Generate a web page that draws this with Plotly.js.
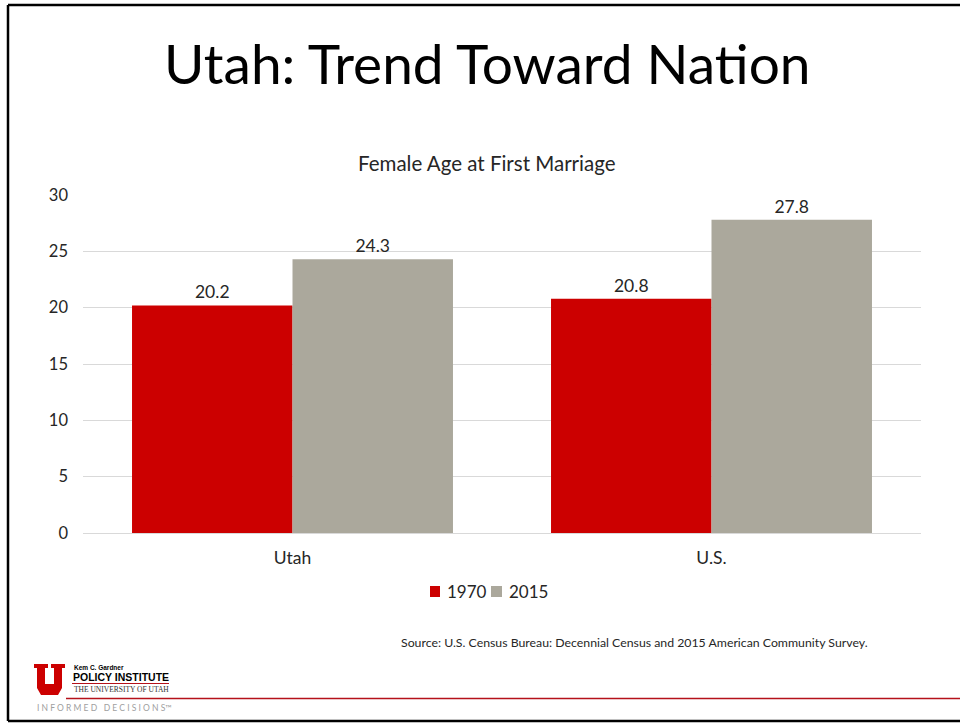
<!DOCTYPE html>
<html><head><meta charset="utf-8">
<script src="https://cdn.plot.ly/plotly-3.0.1.min.js"></script>
<style>html,body{margin:0;padding:0;background:#fff;}#chart{width:960px;height:723px;}</style>
</head><body><div id="chart"></div>
<script>
const categories = ["Utah", "U.S."];
const seriesNames = ["1970", "2015"];
const values1970 = [20.2, 20.8];
const values2015 = [24.3, 27.8];
const yTicks = [0, 5, 10, 15, 20, 25, 30];
const seriesColors = ["#CC0000", "#ABA89C"];

const W = 960, H = 723;
const M = {l: 83, r: 39, t: 195, b: 190};
const PW = W - M.l - M.r, PH = H - M.t - M.b;
const px = x => (x - M.l) / PW;
const py = y => (H - M.b - y) / PH;

const font = "Lato, 'Open Sans', sans-serif";
const txt = "#262626";

const traces = [
  {type: "bar", name: seriesNames[0], x: categories, y: values1970,
   marker: {color: seriesColors[0]}, text: values1970.map(v => v.toFixed(1)),
   textposition: "outside", cliponaxis: false,
   textfont: {family: font, size: 17.5, color: txt}, hoverinfo: "skip", showlegend: false},
  {type: "bar", name: seriesNames[1], x: categories, y: values2015,
   marker: {color: seriesColors[1]}, text: values2015.map(v => v.toFixed(1)),
   textposition: "outside", cliponaxis: false,
   textfont: {family: font, size: 17.5, color: txt}, hoverinfo: "skip", showlegend: false}
];

function line(x0, y0, x1, y1, color, w) {
  return {type: "line", xref: "paper", yref: "paper", x0: px(x0), y0: py(y0), x1: px(x1), y1: py(y1),
          line: {color: color, width: w}, layer: "above"};
}
function rect(x0, y0, x1, y1, color) {
  return {type: "rect", xref: "paper", yref: "paper", x0: px(x0), y0: py(y0), x1: px(x1), y1: py(y1),
          fillcolor: color, line: {width: 0}, layer: "above"};
}
function ann(text, x, y, size, opts) {
  return Object.assign({text: text, xref: "paper", yref: "paper", x: px(x), y: py(y),
    showarrow: false, font: {family: font, size: size, color: txt}, xanchor: "center", yanchor: "middle"}, opts || {});
}

// U logo path in pixel coords
const uPts = [[34,664],[48,664],[48,668],[45,668],[45,684],[54,684],[54,668],[51,668],[51,664],[65,664],[65,668],[62,668],[62,688],[58,695],[41,695],[37,688],[37,668],[34,668]];
const uPath = "M" + uPts.map(p => px(p[0]) + "," + py(p[1])).join(" L") + " Z";

// manual legend positions (pixels)
const legSq = [[430, 440], [491, 502]];
const legTx = [445, 507];

const shapes = [
  line(8, 5, 960, 5, "#000", 2.5),
  line(8, 5, 8, 721, "#000", 2.5),
  line(8, 721, 960, 721, "#000", 2.5),
  line(66, 698.5, 960, 698.5, "#B5121B", 1.5),
  line(72, 683.5, 169, 683.5, "#B5121B", 1),
  {type: "path", xref: "paper", yref: "paper", path: uPath, fillcolor: "#CC0000", line: {width: 0}, layer: "above"},
  rect(legSq[0][0], 586, legSq[0][1], 597, seriesColors[0]),
  rect(legSq[1][0], 586, legSq[1][1], 597, seriesColors[1])
];

const annotations = [
  ann("Utah: Trend Toward Nation", 487, 63, 55, {font: {family: font, size: 55, color: "#000"}}),
  ann("Female Age at First Marriage", 487, 163, 20.5),
  ann("Source: U.S. Census Bureau: Decennial Census and 2015 American Community Survey.", 870, 642, 12.3, {xanchor: "right"}),
  ann(seriesNames[0], legTx[0], 591.5, 17, {xanchor: "left"}),
  ann(seriesNames[1], legTx[1], 591.5, 17, {xanchor: "left"}),
  ann("<b>Kem C. Gardner</b>", 72, 667, 6.5, {xanchor: "left", font: {family: "'Liberation Sans Narrow', Arial, sans-serif", size: 6.5, color: "#000"}}),
  ann("<b>POLICY INSTITUTE</b>", 71, 676.5, 10.5, {xanchor: "left", font: {family: "'Liberation Sans Narrow', Arial, sans-serif", size: 10.5, color: "#000"}}),
  ann("THE UNIVERSITY OF UTAH", 72, 689, 7.5, {xanchor: "left", font: {family: "'Liberation Serif', serif", size: 7.5, color: "#333"}}),
  ann("I N F O R M E D &nbsp; D E C I S I O N S™", 35, 708, 8.5, {xanchor: "left", font: {family: font, size: 8.5, color: "#a0a0a0"}})
];

const layout = {
  width: W, height: H,
  margin: M,
  paper_bgcolor: "#fff", plot_bgcolor: "#fff",
  font: {family: font, size: 16, color: txt},
  barmode: "group", bargap: 0.234, bargroupgap: 0,
  showlegend: false,
  xaxis: {type: "category", showgrid: false, showline: false, zeroline: false,
          ticks: "", ticklabelstandoff: 12, tickfont: {family: font, size: 17.5, color: txt}, fixedrange: true},
  yaxis: {range: [0, 30], tickvals: yTicks, ticktext: yTicks.map(String), showgrid: true,
          gridcolor: "#D9D9D9", gridwidth: 1, zeroline: true, zerolinecolor: "#D9D9D9", zerolinewidth: 1,
          showline: false, ticks: "", ticklabelstandoff: 14,
          tickfont: {family: font, size: 16.5, color: txt}, fixedrange: true},
  shapes: shapes,
  annotations: annotations
};

Plotly.newPlot("chart", traces, layout, {displayModeBar: false, staticPlot: true});
</script>
</body></html>
